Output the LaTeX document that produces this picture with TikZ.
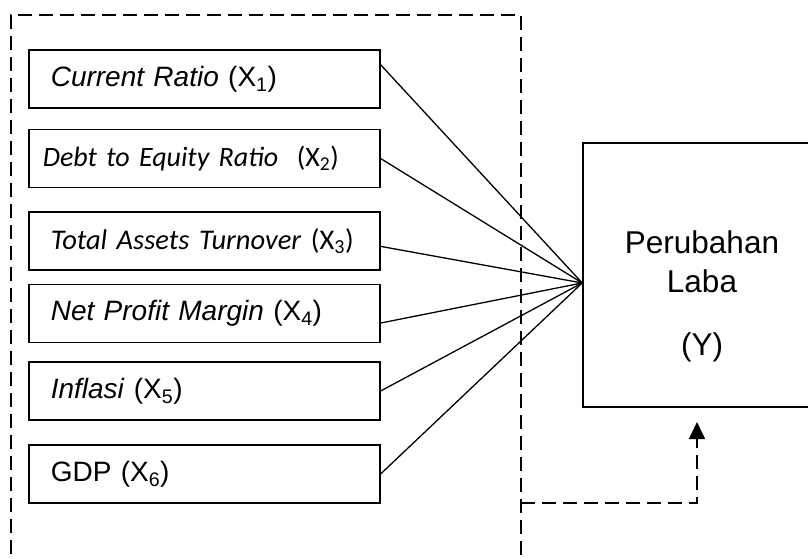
\documentclass[tikz,border=0pt]{standalone}
\usepackage{fontspec}
\setmainfont{Liberation Sans}
\newfontfamily\calib{Carlito}
\usetikzlibrary{arrows.meta,calc}
\begin{document}
\begin{tikzpicture}[x=1pt,y=-1pt,
  varbox/.style={draw,line width=1.6pt,minimum width=351pt,minimum height=58pt,
    inner xsep=22pt,text width=307pt,align=left,anchor=west,
    font=\fontsize{28}{32}\selectfont},
  calbox/.style={varbox,font=\calib\fontsize{28.5}{32}\selectfont},
  link/.style={line width=1.3pt},
  dashline/.style={line width=1.6pt,dash pattern=on 14pt off 7pt}]
\clip (0,0) rectangle (808,559);
\fill[white] (0,0) rectangle (808,559);
% outer dashed frame
\coordinate (fbl) at (11,575);
\coordinate (ftl) at (11,15);
\coordinate (ftr) at (521,15);
\coordinate (fbr) at (521,575);
\draw[dashline] (fbl) -- (ftl) -- (ftr) -- (fbr);
% variable boxes
\node[varbox] (b1) at (28,79) {\textit{Current Ratio} (X\textsubscript{1})};
\node[calbox,inner xsep=14pt,text width=323pt,font=\calib\fontsize{28}{32}\selectfont] (b2) at (28,158.5) {\textit{Debt to Equity Ratio}\ \ (X\textsubscript{2})};
\node[calbox] (b3) at (28,241) {\textit{Total Assets Turnover} (X\textsubscript{3})};
\node[varbox] (b4) at (28,313.5) {\textit{Net Profit Margin} (X\textsubscript{4})};
\node[varbox] (b5) at (28,391) {\textit{Inflasi} (X\textsubscript{5})};
\node[varbox] (b6) at (28,474) {GDP (X\textsubscript{6})};
% dependent box
\node[draw,line width=1.6pt,minimum width=238pt,minimum height=264pt] (Y) at (702,275) {};
\node[font=\fontsize{31.5}{39}\selectfont,align=center] (yt) at (702,296) {Perubahan\\Laba\\[24pt](Y)};
\coordinate (conv) at ($(Y.north west)!0.53!(Y.south west)$);
% connectors
\draw[link] ($(b1.north east)!0.26!(b1.south east)$) -- (conv);
\draw[link] (b2.east) -- (conv);
\draw[link] ($(b3.north east)!0.59!(b3.south east)$) -- (conv);
\draw[link] ($(b4.north east)!0.66!(b4.south east)$) -- (conv);
\draw[link] (b5.east) -- (conv);
\draw[link] (b6.east) -- (conv);
% dashed arrow to Y
\coordinate (ds) at (521,503);
\coordinate (dc) at (697,503);
\coordinate (de) at (697,422);
\draw[dashline,-{Triangle[width=16pt,length=17pt]}] (ds) -- (dc) -- (de);
\end{tikzpicture}
\end{document}
